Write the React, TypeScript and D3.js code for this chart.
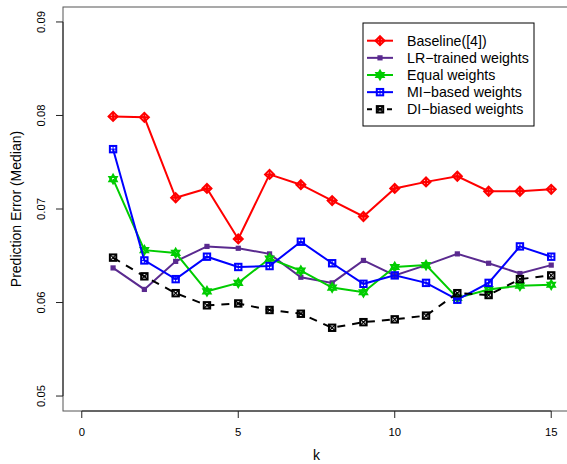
import React from "react";
import * as d3 from "d3";

const kValues = [1, 2, 3, 4, 5, 6, 7, 8, 9, 10, 11, 12, 13, 14, 15];
const baseline = [0.0799, 0.0798, 0.0712, 0.0722, 0.0668, 0.0737, 0.0726, 0.0709, 0.0692, 0.0722, 0.0729, 0.0735, 0.0719, 0.0719, 0.0721];
const lrTrained = [0.0637, 0.0614, 0.0644, 0.0660, 0.0658, 0.0652, 0.0627, 0.0621, 0.0645, 0.0629, 0.0640, 0.0652, 0.0642, 0.0631, 0.0640];
const equalW = [0.0732, 0.0656, 0.0653, 0.0612, 0.0621, 0.0647, 0.0634, 0.0616, 0.0611, 0.0638, 0.0640, 0.0605, 0.0614, 0.0618, 0.0619];
const miBased = [0.0764, 0.0645, 0.0625, 0.0649, 0.0638, 0.0639, 0.0665, 0.0642, 0.0620, 0.0629, 0.0621, 0.0603, 0.0621, 0.0660, 0.0649];
const diBiased = [0.0648, 0.0628, 0.0610, 0.0597, 0.0599, 0.0592, 0.0588, 0.0573, 0.0579, 0.0582, 0.0586, 0.0610, 0.0608, 0.0625, 0.0629];

const seriesNames = ["Baseline([4])", "LR\u2212trained weights", "Equal weights", "MI\u2212based weights", "DI\u2212biased weights"];
const seriesColors = ["#FF0000", "#5A2A8F", "#00CC00", "#0000FF", "#000000"];
const seriesMarkers = ["diamondPlus", "square", "star", "squarePlus", "squareX"];
const seriesDashed = [false, false, false, false, true];
const seriesValues = [baseline, lrTrained, equalW, miBased, diBiased];

const xTicks = [0, 5, 10, 15];
const yTicks = [0.05, 0.06, 0.07, 0.08, 0.09];

const W = 567;
const H = 464;
const FONT = "'Liberation Sans', Arial, Helvetica, sans-serif";

function Marker({ type, x, y, color }: { type: string; x: number; y: number; color: string }) {
  const sw = 2;
  if (type === "diamondPlus") {
    const r = 4.5;
    return (
      <g stroke={color} strokeWidth={sw} fill="none">
        <path d={`M${x},${y - r}L${x + r},${y}L${x},${y + r}L${x - r},${y}Z`} />
        <path d={`M${x - r},${y}H${x + r}M${x},${y - r}V${y + r}`} />
      </g>
    );
  }
  if (type === "square") {
    const r = 2.6;
    return <rect x={x - r} y={y - r} width={2 * r} height={2 * r} fill={color} />;
  }
  if (type === "star") {
    const r = 4.2;
    const a = r * 0.866;
    return (
      <g stroke={color} strokeWidth={sw} fill="none">
        <path d={`M${x},${y - r}L${x + a},${y + r / 2}L${x - a},${y + r / 2}Z`} />
        <path d={`M${x},${y + r}L${x + a},${y - r / 2}L${x - a},${y - r / 2}Z`} />
      </g>
    );
  }
  if (type === "squarePlus") {
    const r = 3.2;
    return (
      <g stroke={color} strokeWidth={sw} fill="none">
        <rect x={x - r} y={y - r} width={2 * r} height={2 * r} />
        <path d={`M${x - r},${y}H${x + r}M${x},${y - r}V${y + r}`} strokeWidth={1} />
      </g>
    );
  }
  const r = 3.2;
  return (
    <g stroke={color} strokeWidth={sw} fill="none">
      <rect x={x - r} y={y - r} width={2 * r} height={2 * r} />
      <path d={`M${x - r},${y - r}L${x + r},${y + r}M${x + r},${y - r}L${x - r},${y + r}`} strokeWidth={1.2} />
    </g>
  );
}

export default function App() {
  const x = d3.scaleLinear().domain([-0.6, 15.6]).range([63, 570]);
  const y = d3.scaleLinear().domain([0.0484, 0.0916]).range([411, 7]);
  const line = d3
    .line<number>()
    .x((_, i) => x(kValues[i]))
    .y((d) => y(d));

  const legX = 363;
  const legY = 23;
  const legW = 171;
  const legH = 103;
  const rowY0 = 40.7;
  const rowDY = 17.15;

  return (
    <svg width={W} height={H} style={{ position: "absolute", left: 0, top: 0, background: "#fff" }} fontFamily={FONT}>
      <rect x={0} y={0} width={W} height={H} fill="#fff" />
      <rect x={63} y={7} width={570 - 63} height={411 - 7} fill="none" stroke="#555" strokeWidth={1} />
      <line x1={63} x2={63} y1={y(0.05)} y2={y(0.09)} stroke="#222" strokeWidth={1} />
      {yTicks.map((t) => (
        <g key={t}>
          <line x1={56} x2={63} y1={y(t)} y2={y(t)} stroke="#222" />
          <text
            transform={`translate(45,${y(t)}) rotate(-90)`}
            textAnchor="middle"
            fontSize={11.3}
            fill="#000"
          >
            {t.toFixed(2)}
          </text>
        </g>
      ))}
      <line x1={x(0)} x2={x(15)} y1={411} y2={411} stroke="#222" strokeWidth={1} />
      {xTicks.map((t) => (
        <g key={t}>
          <line x1={x(t)} x2={x(t)} y1={411} y2={418} stroke="#222" />
          <text x={x(t)} y={435.5} textAnchor="middle" fontSize={11.3} fill="#000">
            {t}
          </text>
        </g>
      ))}
      <text x={316.5} y={460} textAnchor="middle" fontSize={14} fill="#000">
        k
      </text>
      <text transform={`translate(21,209) rotate(-90)`} textAnchor="middle" fontSize={14} fill="#000">
        Prediction Error (Median)
      </text>

      {seriesValues.map((vals, si) => (
        <g key={si}>
          <path
            d={line(vals) || ""}
            fill="none"
            stroke={seriesColors[si]}
            strokeWidth={2}
            strokeDasharray={seriesDashed[si] ? "8,7" : undefined}
          />
          {vals.map((v, i) => (
            <Marker key={i} type={seriesMarkers[si]} x={x(kValues[i])} y={y(v)} color={seriesColors[si]} />
          ))}
        </g>
      ))}

      <rect x={legX} y={legY} width={legW} height={legH} fill="#fff" stroke="#000" strokeWidth={1} />
      {seriesNames.map((name, si) => {
        const ry = rowY0 + si * rowDY;
        return (
          <g key={name}>
            <line
              x1={367}
              x2={393}
              y1={ry}
              y2={ry}
              stroke={seriesColors[si]}
              strokeWidth={2}
              strokeDasharray={seriesDashed[si] ? "5,5" : undefined}
            />
            <Marker type={seriesMarkers[si]} x={380} y={ry} color={seriesColors[si]} />
            <text x={407} y={ry} dy="0.35em" fontSize={14.2} fill="#000">
              {name}
            </text>
          </g>
        );
      })}
    </svg>
  );
}
